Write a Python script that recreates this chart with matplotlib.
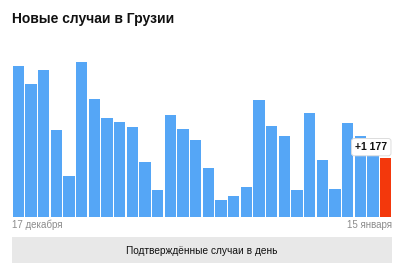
import matplotlib
matplotlib.use("Agg")
import matplotlib.pyplot as plt
from matplotlib.patches import Rectangle

plt.rcParams['font.family'] = ['Liberation Sans', 'DejaVu Sans']

title = "Новые случаи в Грузии"
first_label = "17 декабря"
last_label = "15 января"
footer = "Подтверждённые случаи в день"
values = [3006, 2647, 2920, 1722, 818, 3079, 2347, 1969, 1882, 1789,
          1084, 525, 2021, 1742, 1523, 978, 326, 405, 592, 2321,
          1802, 1616, 525, 2075, 1137, 545, 1869, 1616, 1430, 1177]
last_text = "+1 177"

W, H = 400, 263
fig = plt.figure(figsize=(W / 100, H / 100), dpi=100)
fig.patch.set_facecolor('white')

ax_left, ax_right = 12 / W, 392 / W
ax_bottom = (H - 216.7) / H
ax_top = (H - 55) / H
ax = fig.add_axes([ax_left, ax_bottom, ax_right - ax_left, ax_top - ax_bottom])
n = len(values)
colors = ['#55a6f6'] * (n - 1) + ['#f3380c']
ax.bar(range(n), values, width=0.92, color=colors, align='center')
ax.set_xlim(-0.5, n - 0.5)
ax.set_ylim(0, 161.7 * 19.95)
ax.axis('off')

# label above last bar
ax.annotate(last_text, xy=(n - 1 + 0.46, values[-1]), xytext=(-3, 4),
            textcoords='offset points', ha='right', va='bottom',
            fontsize=7.5, fontweight='bold', color='#111111',
            bbox=dict(boxstyle='round,pad=0.35,rounding_size=0.25',
                      fc='white', ec='#dddddd', lw=0.7))

fig.text(12 / W, 1 - 19 / H, title, fontsize=10, fontweight='bold',
         color='#111111', ha='left', va='center')
fig.text(12 / W, 1 - 225 / H, first_label, fontsize=7, color='#8c8c8c',
         ha='left', va='center')
fig.text(392 / W, 1 - 225 / H, last_label, fontsize=7, color='#8c8c8c',
         ha='right', va='center')

fig.patches.append(Rectangle((12 / W, 0), 380 / W, 26 / H,
                             transform=fig.transFigure, fc='#e8e8e8',
                             ec='none'))
fig.text(202 / W, 1 - 251 / H, footer, fontsize=7.3, color='#111111',
         ha='center', va='center')

fig.savefig('out.png', dpi=100)
